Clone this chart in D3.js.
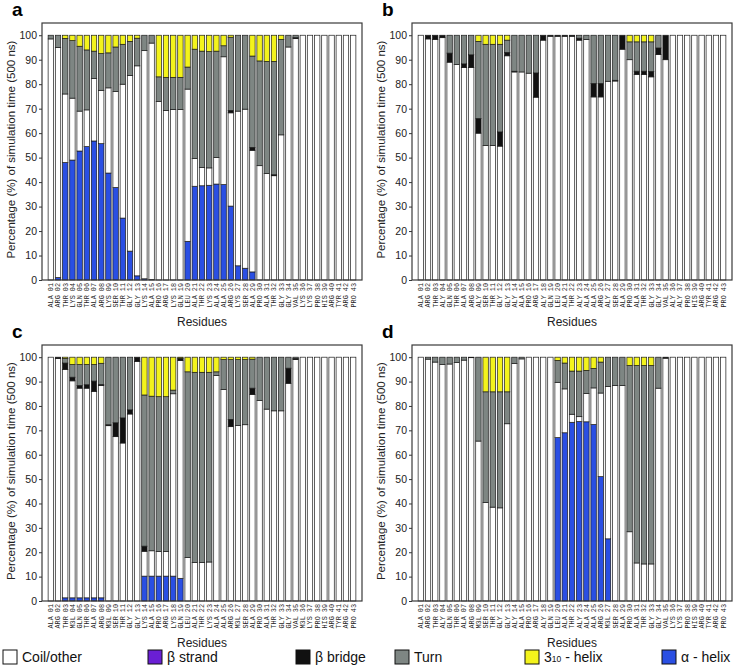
<!DOCTYPE html>
<html><head><meta charset="utf-8">
<script src="https://cdn.jsdelivr.net/npm/d3@7/dist/d3.min.js"></script>
<style>body{margin:0;background:#fff}svg{display:block}</style>
</head><body>
<svg id="chart" width="741" height="670"></svg>
<script>
// ---------- data ----------
const yTicks = [0,10,20,30,40,50,60,70,80,90,100];
const baseRes = ["ALA","ARG","THR","LYS","GLN","THR","ALA","ARG","LYS","SER","THR","GLY","GLY","LYS","ALA","PRO","ARG","LYS","GLN","LEU","ALA","THR","LYS","ALA","ALA","ARG","LYS","SER","ALA","PRO","ALA","THR","GLY","GLY","VAL","LYS","LYS","PRO","HIS","ARG","TYR","ARG","PRO"];
const resA = baseRes.slice();
const resB = ["ALA","ARG","THR","ALY","GLN","THR","ALA","ARG","ALY","SER","THR","GLY","GLY","ALY","ALA","PRO","ARG","ALY","GLN","LEU","ALA","THR","ALY","ALA","ALA","ARG","ALY","SER","ALA","PRO","ALA","THR","GLY","GLY","VAL","ALY","ALY","PRO","HIS","ARG","TYR","ARG","PRO"];
const resC = ["ALA","ARG","THR","M3L","GLN","THR","ALA","ARG","M3L","SER","THR","GLY","GLY","LYS","ALA","PRO","ARG","LYS","GLN","LEU","ALA","THR","LYS","ALA","ALA","ARG","M3L","SER","ALA","PRO","ALA","THR","GLY","GLY","VAL","M3L","LYS","PRO","HIS","ARG","TYR","ARG","PRO"];
const resD = ["ALA","ARG","THR","ALY","GLN","THR","ALA","ARG","M3L","SER","THR","GLY","GLY","ALY","ALA","PRO","ARG","ALY","GLN","LEU","ALA","THR","ALY","ALA","ALA","ARG","M3L","SER","ALA","PRO","ALA","THR","GLY","GLY","VAL","LYS","LYS","PRO","HIS","ARG","TYR","ARG","PRO"];

// panel a
const aAlpha = [0,1,48,49,52.7,54.5,56.8,55.7,43.7,37.8,25.3,11.8,1.7,0.5,0.2,0,0,0,0,15.8,38.3,38.5,38.7,39.2,39,30.2,5.8,4.8,3.3,0,0,0,0,0,0,0,0,0,0,0,0,0,0];
const aCoil  = [98.5,94,28,25.3,16.3,15,25.5,21.8,34.8,39.2,54.7,71.8,85.8,93.2,96.6,73,69.3,69.7,69.7,62.2,11.3,7.5,7.1,10.9,52.2,38.1,63.2,65,49.7,46.7,43.5,42.6,59.3,95.2,98.6,100,100,100,100,100,100,100,100];
const aStrand= [0,0,0,0,0,0,0,0,0,0,0,0,0,0,0,0,0,0,0,0,0,0,0,0,0,0,0,0,0,0,0,0,0,0,0,0,0,0,0,0,0,0,0];
const aBridge= [0,0,0,0,0,0,0,0,0,0,0,0,0,0,0,0,0,0,0,0,0,0,0,0,0,1,0,0,1.2,0,0,0.4,0,0,0.4,0,0,0,0,0,0,0,0];
const aTurn  = [1.5,5,22.7,23.5,26.5,24.5,11.2,15,14.3,18.2,16.3,13.9,11.3,6.3,3.2,10,13.5,13.1,13.1,9,44.7,47.5,47.5,43.4,4.5,29.9,31,30.2,37.3,42.8,45.8,46.3,39,4.8,1,0,0,0,0,0,0,0,0];
const aH310  = [0,0,1.3,2.2,4.5,6,6.5,7.5,7.2,4.8,3.7,2.5,1.2,0,0,17,17.2,17.2,17.2,13,5.7,6.5,6.7,6.5,4.3,0.8,0,0,8.5,10.5,10.7,10.7,1.7,0,0,0,0,0,0,0,0,0,0];

// panel b
const bAlpha = [0,0,0,0,0,0,0,0,0,0,0,0,0,0,0,0,0,0,0,0,0,0,0,0,0,0,0,0,0,0,0,0,0,0,0,0,0,0,0,0,0,0,0];
const bCoil  = [100,98.5,98.3,99,89,88,86.8,86.8,60,55,55,54.7,91.6,85,85,84.5,74.7,98,99.6,99.6,99.6,99.6,98,98.3,74.8,74.8,81.2,81.3,94.3,90,84,84,83,92.1,90,100,100,100,100,100,100,100,100];
const bStrand= [0,0,0,0,0,0,0,0,0,0,0,0,0,0,0,0,0,0,0,0,0,0,0,0,0,0,0,0,0,0,0,0,0,0,0,0,0,0,0,0,0,0,0];
const bBridge= [0,1.5,1.7,1,3.7,0,1.5,5.2,6,0,0,5.8,1.4,0.3,0,0,9.9,2,0.4,0.4,0.4,0.4,0.8,0,5.5,5.5,0,0.3,5.7,0,1.3,1.3,2.2,2.7,10,0,0,0,0,0,0,0,0];
const bTurn  = [0,0,0,0,7.3,12,11.7,8,31.5,41.3,41.3,35.8,5,14.7,15,15.5,15.4,0,0,0,0,0,1.2,1.7,19.7,19.7,18.8,18.4,0,7.3,12,12,12.1,5.2,0,0,0,0,0,0,0,0,0];
const bH310  = [0,0,0,0,0,0,0,0,2.5,3.7,3.7,3.7,2,0,0,0,0,0,0,0,0,0,0,0,0,0,0,0,0,2.7,2.7,2.7,2.7,0,0,0,0,0,0,0,0,0,0];

// panel c
const cAlpha = [0,0,1.3,1.3,1.3,1.3,1.3,1.3,0,0,0,0,0,10.2,10.2,10.2,10.2,10.2,9.3,0,0,0,0,0,0,0,0,0,0,0,0,0,0,0,0,0,0,0,0,0,0,0,0];
const cCoil  = [100,99.5,93.7,89,86,86,84.7,87.1,71.9,67.4,64.8,76.7,98.3,10.2,10.4,10.1,10.1,74.8,89.3,17.8,15.8,15.8,16,92.5,86.7,71.5,72,72.3,84.7,82.2,78.7,78,78,89.3,99,100,100,100,100,100,100,100,100];
const cStrand= [0,0,0,0,0,0,0,0,0,0,0,0,0,0,0,0,0,0,0,0,0,0,0,0,0,0,0,0,0,0,0,0,0,0,0,0,0,0,0,0,0,0,0];
const cBridge= [0,0.5,2.6,1.5,1.1,1.4,4.2,0.4,0.4,5.7,10.3,1.7,1.7,2.1,0,0,0,0,0.7,0,0,0,0,0,0,3,0,0,2.6,0,0,0,0,6.2,0.5,0,0,0,0,0,0,0,0];
const cTurn  = [0,0,1.9,5.2,8.6,8.3,6.8,8.7,27.7,26.9,24.9,21.6,0,62,63.4,63.5,63.5,1.5,0.3,76.2,78,78,77.8,1.5,12.3,24.5,27,26.7,11.9,17.8,21.3,22,22,4.5,0.5,0,0,0,0,0,0,0,0];
const cH310  = [0,0,0.5,3,3,3,3,2.5,0,0,0,0,0,15.5,16,16.2,16.2,13.5,0.4,6,6.2,6.2,6.2,6,1,1,1,1,0.8,0,0,0,0,0,0,0,0,0,0,0,0,0,0];

// panel d
const dAlpha = [0,0,0,0,0,0,0,0,0,0,0,0,0,0,0,0,0,0,0,67,69,73.3,73.6,73.5,72.4,51,25.5,0,0,0,0,0,0,0,0,0,0,0,0,0,0,0,0];
const dCoil  = [100,99.2,98,97,97.2,97.8,98.8,99.8,65.6,40.4,38.5,38.2,72.7,97.4,99.3,100,100,100,100,22.7,18,3.3,2,11.6,15,34.3,62.5,88.4,88.4,28.4,15.6,15.2,15.2,87.3,99.6,100,100,100,100,100,100,100,100];
const dStrand= [0,0,0,0,0,0,0,0,0,0,0,0,0,0,0,0,0,0,0,0,0,0,0,0,0,0,0,0,0,0,0,0,0,0,0,0,0,0,0,0,0,0,0];
const dBridge= [0,0,0,0,0,0,0,0,0,0,0,0,0,0,0,0,0,0,0,0,0,0,0,0,0,0,0,0,0,0,0,0,0,0,0.4,0,0,0,0,0,0,0,0];
const dTurn  = [0,0.8,2,3,2.8,2.2,1.2,0.2,34.4,45.4,47.3,47.6,13.1,2.6,0.7,0,0,0,0,9,10.6,17.7,18.7,9.5,8,12.7,12,11.6,11.6,68.2,81,81.4,81.4,12.7,0,0,0,0,0,0,0,0,0];
const dH310  = [0,0,0,0,0,0,0,0,0,14.2,14.2,14.2,14.2,0,0,0,0,0,0,1.3,2.4,5.7,5.7,5.4,4.6,2,0,0,0,3.4,3.4,3.4,3.4,0,0,0,0,0,0,0,0,0,0];

const seriesKeys = ["alpha","coil","strand","bridge","turn","h310"];
const legendNames = ["Coil/other","β strand","β bridge","Turn","310","α - helix"];

// ---------- styling ----------
const colors = {coil:"#ffffff", strand:"#6a1fd4", bridge:"#111111", turn:"#7e8683", h310:"#f3f31c", alpha:"#2a4fe3"};

const svg = d3.select("#chart");
const panels = [
  {letter:"a", x0:42,  x1:362, y0:23,  y1:280, res:resA, s:[aAlpha,aCoil,aStrand,aBridge,aTurn,aH310]},
  {letter:"b", x0:412, x1:732, y0:23,  y1:280, res:resB, s:[bAlpha,bCoil,bStrand,bBridge,bTurn,bH310]},
  {letter:"c", x0:42,  x1:362, y0:345, y1:601, res:resC, s:[cAlpha,cCoil,cStrand,cBridge,cTurn,cH310]},
  {letter:"d", x0:412, x1:732, y0:345, y1:601, res:resD, s:[dAlpha,dCoil,dStrand,dBridge,dTurn,dH310]}
];

panels.forEach(p => {
  const g = svg.append("g");
  const idx = d3.range(p.res.length);
  const x = d3.scaleBand().domain(idx).range([p.x0, p.x1]).paddingInner(0.25).paddingOuter(0.85);
  const y = d3.scaleLinear().domain([0,105]).range([p.y1, p.y0]);
  const rows = idx.map(i => {
    const r = {i};
    seriesKeys.forEach((k,j) => r[k] = p.s[j][i]);
    return r;
  });
  const stacked = d3.stack().keys(seriesKeys)(rows);
  stacked.forEach(layer => {
    g.append("g").selectAll("rect")
      .data(layer.filter(d => d[1] - d[0] > 0))
      .join("rect")
      .attr("x", d => x(d.data.i))
      .attr("width", x.bandwidth())
      .attr("y", d => y(d[1]))
      .attr("height", d => y(d[0]) - y(d[1]))
      .attr("fill", colors[layer.key])
      .attr("stroke", "#1a1a1a")
      .attr("stroke-width", 0.7);
  });
  // frame
  g.append("rect").attr("x", p.x0).attr("y", p.y0)
    .attr("width", p.x1 - p.x0).attr("height", p.y1 - p.y0)
    .attr("fill", "none").attr("stroke", "#3a3a3a").attr("stroke-width", 1.2);
  // y axis
  const ya = g.append("g").attr("transform", `translate(${p.x0},0)`)
    .call(d3.axisLeft(y).tickValues(yTicks).tickSize(3).tickPadding(2));
  ya.select(".domain").remove();
  ya.selectAll("text").attr("font-family", "Liberation Sans, Arial, sans-serif").attr("font-size", 10.5).attr("fill", "#222");
  ya.selectAll("line").attr("stroke", "#333");
  // x axis
  const xa = g.append("g").attr("transform", `translate(0,${p.y1})`)
    .call(d3.axisBottom(x).tickSize(0).tickFormat(i => p.res[i] + " " + String(i+1).padStart(2,"0")));
  xa.select(".domain").remove();
  xa.selectAll("text")
    .attr("transform", "rotate(-90)")
    .attr("x", -3).attr("y", 0).attr("dy", "0.35em")
    .attr("text-anchor", "end")
    .attr("font-family", "Liberation Mono, DejaVu Sans Mono, monospace")
    .attr("font-size", 6.8).attr("fill", "#222");
  // axis titles
  const cy = (y(0) + y(100)) / 2 - 8;
  g.append("text").attr("transform", `translate(${p.x0 - 27},${cy}) rotate(-90)`)
    .attr("text-anchor", "middle")
    .attr("font-family", "Liberation Sans, Arial, sans-serif").attr("font-size", 11.5).attr("fill", "#222")
    .text("Percentage (%) of simulation time (500 ns)");
  g.append("text").attr("x", (p.x0 + p.x1) / 2).attr("y", p.y1 + 46)
    .attr("text-anchor", "middle")
    .attr("font-family", "Liberation Sans, Arial, sans-serif").attr("font-size", 12).attr("fill", "#222")
    .text("Residues");
  g.append("text").attr("x", p.x0 - 30).attr("y", p.y0 - 7)
    .attr("font-family", "Liberation Sans, Arial, sans-serif").attr("font-size", 19).attr("font-weight", "bold")
    .text(p.letter);
});

// ---------- legend ----------
const legendOrder = ["coil","strand","bridge","turn","h310","alpha"];
const legendBoxX = [3, 148, 296, 395, 525, 662];
const lg = svg.append("g");
legendOrder.forEach((k, j) => {
  lg.append("rect").attr("x", legendBoxX[j]).attr("y", 650).attr("width", 14).attr("height", 14)
    .attr("fill", colors[k]).attr("stroke", "#111").attr("stroke-width", 1);
  const t = lg.append("text").attr("x", legendBoxX[j] + 19).attr("y", 662)
    .attr("font-family", "Liberation Sans, Arial, sans-serif").attr("font-size", 14).attr("fill", "#111");
  if (k === "h310") {
    t.append("tspan").text("3");
    t.append("tspan").attr("font-size", 8.5).text("10");
    t.append("tspan").text(" - helix");
  } else {
    t.text(legendNames[j]);
  }
});
</script>
</body></html>
